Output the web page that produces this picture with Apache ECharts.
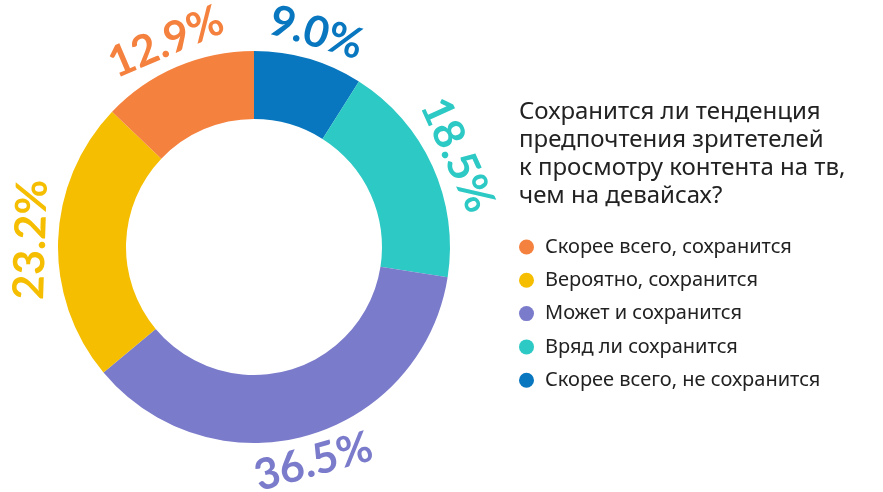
<!DOCTYPE html>
<html>
<head>
<meta charset="utf-8">
<script src="https://cdn.jsdelivr.net/npm/echarts@6/dist/echarts.min.js"></script>
<style>
html,body{margin:0;padding:0;background:#fff;}
#chart{width:883px;height:492px;}
</style>
</head>
<body>
<div id="chart"></div>
<script>
const categories = ['Скорее всего, не сохранится', 'Вряд ли сохранится', 'Может и сохранится', 'Вероятно, сохранится', 'Скорее всего, сохранится'];
const values = [9.0, 18.5, 36.5, 23.2, 12.9];
const colors = ['#0877BF', '#2DC9C4', '#7B7BCB', '#F5BE00', '#F5813F'];
const legendOrder = ['Скорее всего, сохранится', 'Вероятно, сохранится', 'Может и сохранится', 'Вряд ли сохранится', 'Скорее всего, не сохранится'];
const titleText = 'Сохранится ли тенденция\nпредпочтения зритетелей\nк просмотру контента на тв,\nчем на девайсах?';

const chart = echarts.init(document.getElementById('chart'), null, {renderer: 'canvas'});
const center = [254, 247];
chart.setOption({
  animation: false,
  title: {
    text: titleText,
    left: 514, top: 93,
    textStyle: {fontFamily: 'Noto Sans', fontSize: 24, fontWeight: 'normal', color: '#222', lineHeight: 28}
  },
  legend: {
    orient: 'vertical',
    left: 514, top: 232,
    itemWidth: 15, itemHeight: 15, itemGap: 13.3,
    icon: 'circle',
    data: legendOrder,
    textStyle: {fontFamily: 'Noto Sans', fontSize: 20, color: '#222', padding: [0,0,0,6]}
  },
  series: [
    {
      type: 'pie',
      center: center,
      radius: [128, 196],
      startAngle: 90,
      label: {show: false},
      labelLine: {show: false},
      emphasis: {disabled: true},
      data: categories.map((n, i) => ({name: n, value: values[i], itemStyle: {color: colors[i]}}))
    },
    {
      type: 'pie',
      center: center,
      radius: [200, 240],
      startAngle: 90,
      silent: true,
      itemStyle: {color: 'rgba(0,0,0,0)'},
      label: {
        show: true,
        position: 'inside',
        rotate: 'tangential',
        fontFamily: 'Lato',
        fontWeight: 'bold',
        fontSize: 43,
        formatter: p => p.value.toFixed(1) + '%'
      },
      labelLine: {show: false},
      emphasis: {disabled: true},
      data: categories.map((n, i) => ({name: n, value: values[i], itemStyle: {color: 'rgba(0,0,0,0)'}, label: {color: colors[i]}}))
    }
  ]
});
</script>
</body>
</html>
